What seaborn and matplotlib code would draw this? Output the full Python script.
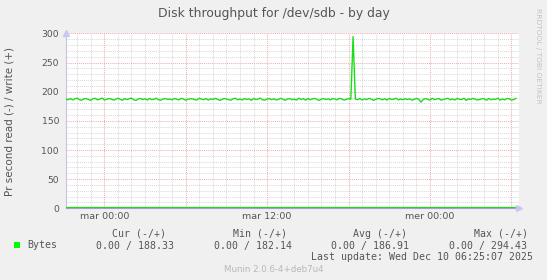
import numpy as np
import pandas as pd
import matplotlib
matplotlib.use("Agg")
import matplotlib.pyplot as plt
from matplotlib.patches import Rectangle
import seaborn as sns

# ---- data ----
title = "Disk throughput for /dev/sdb - by day"
ylabel = "Pr second read (-) / write (+)"
start_hour = -17 / 6          # hours relative to "mar 00:00"
step_hour = 1 / 6             # 10-minute samples
write_bytes = [
    187.2, 186.1, 188.4, 185.9, 187.6, 188.9, 186.3, 185.4, 187.8, 188.1,
    186.7, 185.2, 187.9, 188.6, 186.0, 187.3, 189.1, 185.8, 186.9, 188.2,
    187.4, 185.6, 186.8, 188.7, 187.1, 185.3, 188.0, 186.5, 187.7, 189.0,
    186.2, 185.0, 187.5, 188.3, 186.6, 187.9, 185.7, 188.5, 186.4, 187.0,
    188.8, 186.1, 185.5, 187.6, 188.1, 186.8, 187.3, 185.9, 188.4, 187.2,
    186.0, 188.6, 187.4, 185.4, 186.9, 188.0, 187.7, 186.3, 185.8, 188.9,
    187.1, 186.4, 188.2, 185.6, 187.8, 186.7, 188.5, 187.0, 185.2, 186.6,
    188.3, 187.5, 186.2, 185.7, 187.9, 188.7, 186.1, 187.3, 185.9, 188.0,
    186.8, 187.6, 185.3, 188.4, 186.5, 187.2, 188.9, 186.0, 185.6, 187.4,
    188.1, 186.3, 187.8, 185.8, 186.9, 188.6, 187.0, 185.4, 187.5, 188.2,
    186.4, 187.1, 185.7, 188.8, 186.7, 187.9, 185.5, 188.3, 186.2, 187.6,
    188.5, 186.9, 185.1, 187.3, 188.0, 186.6, 187.7, 185.9, 188.4, 187.2,
    186.1, 188.7, 187.4, 185.6, 186.8, 188.2, 187.0, 294.43, 187.5, 186.3,
    188.1, 185.8, 187.6, 186.4, 188.6, 187.2, 185.3, 186.9, 188.3, 187.7,
    186.0, 187.9, 185.6, 188.5, 186.7, 187.1, 188.9, 185.9, 187.4, 186.2,
    188.0, 186.5, 187.8, 185.4, 186.9, 188.4, 187.3, 182.14, 186.6, 188.2,
    187.0, 185.7, 188.7, 186.3, 187.5, 188.1, 185.5, 186.8, 187.9, 188.6,
    186.1, 187.4, 185.9, 188.3, 187.2, 186.4, 188.8, 185.2, 187.6, 186.9,
    188.5, 187.1, 185.8, 186.6, 188.0, 187.7, 185.4, 188.4, 186.2, 187.3,
    186.8, 188.9, 185.6, 187.5, 186.0, 188.2, 187.9, 185.7, 186.5, 188.33,
]
read_bytes = [0.0] * len(write_bytes)
xtick_hours = [0, 12, 24]
xtick_labels = ["mar 00:00", "mar 12:00", "mer 00:00"]
yticks = [0, 50, 100, 150, 200, 250, 300]
legend_name = "Bytes"
stat_headers = ["Cur (-/+)", "Min (-/+)", "Avg (-/+)", "Max (-/+)"]
stat_values = ["0.00 / 188.33", "0.00 / 182.14", "0.00 / 186.91", "0.00 / 294.43"]
last_update = "Last update: Wed Dec 10 06:25:07 2025"
footer = "Munin 2.0.6-4+deb7u4"
side_text = "RRDTOOL / TOBI OETIKER"

hours = [start_hour + i * step_hour for i in range(len(write_bytes))]
df = pd.DataFrame({"hour": hours, "write": write_bytes, "read": read_bytes})

# ---- figure ----
W, H = 547, 280
fig = plt.figure(figsize=(W / 100, H / 100), dpi=100, facecolor="#F0F0F0")

def fx(px):
    return px / W

def fy(py):
    return 1 - py / H

left, right, top, bottom = 66, 518.6, 33.4, 208.3
ax = fig.add_axes([fx(left), fy(bottom), fx(right - left), (bottom - top) / H])
ax.set_facecolor("white")
ax.set_xlim(-2.822, 30.53)
ax.set_ylim(0, 300)

gray = "#D8D8D8"
red = "#F0B0B0"
dot = (0, (1, 1))
for h in range(-2, 31):
    if h % 6 == 0:
        continue
    ax.axvline(h, color=gray, lw=0.7, ls=dot, zorder=0)
for h in range(0, 31, 6):
    ax.axvline(h, color=red, lw=0.75, ls=dot, zorder=0.5)
for v in range(10, 300, 10):
    if v % 50 == 0:
        continue
    ax.axhline(v, color=gray, lw=0.7, ls=dot, zorder=0)
for v in range(50, 301, 50):
    ax.axhline(v, color=red, lw=0.75, ls=dot, zorder=0.5)

sns.lineplot(data=df, x="hour", y="write", ax=ax, color="#1ADD1A", lw=1.0, zorder=3)
sns.lineplot(data=df, x="hour", y="read", ax=ax, color="#1ADD1A", lw=1.6, zorder=4)

for s in ["top", "right"]:
    ax.spines[s].set_visible(False)
ax.spines["left"].set_color("#C4C4E4")
ax.spines["bottom"].set_color("#A0A0C8")
ax.spines["left"].set_linewidth(0.8)
ax.spines["bottom"].set_linewidth(0.8)
ax.set_xlabel("")
ax.set_ylabel("")

ax.set_xticks(xtick_hours)
ax.set_xticklabels(xtick_labels)
ax.set_yticks(yticks)
ax.tick_params(axis="both", length=0, colors="#555555", labelsize=6.8, pad=3)
ax.tick_params(axis="y", labelsize=6.7, pad=5)

# axis arrows
ax.plot([0], [1.0], transform=ax.transAxes, marker="^", ms=4, color="#C8C8F4",
        clip_on=False, zorder=5)
ax.plot([1.0], [0], transform=ax.transAxes, marker=">", ms=4, color="#C8C8F4",
        clip_on=False, zorder=5)

# texts
fig.text(fx(274), fy(14), title, ha="center", va="center", fontsize=8.9, color="#555555")
fig.text(fx(10), fy(121), ylabel, ha="center", va="center", rotation=90,
         fontsize=7.5, color="#555555")
fig.text(fx(538), fy(56), side_text, ha="center", va="center", rotation=270,
         fontsize=5.4, color="#C4C4C4")

mono = "DejaVu Sans Mono"
hx = [111.6, 232.6, 353.0, 473.7]
vx = [96.0, 213.5, 330.7, 449.0]
for x, t in zip(hx, stat_headers):
    fig.text(fx(x), fy(234), t, ha="left", va="center", family=mono, fontsize=7.1, color="#555555")
for x, t in zip(vx, stat_values):
    fig.text(fx(x), fy(245.5), t, ha="left", va="center", family=mono, fontsize=7.1, color="#555555")
fig.patches.append(Rectangle((fx(14), fy(248)), 6 / W, 6 / H, transform=fig.transFigure,
                             facecolor="#00FF00", edgecolor="none", figure=fig))
fig.text(fx(26.9), fy(245.5), legend_name, ha="left", va="center", family=mono,
         fontsize=7.1, color="#555555")
fig.text(fx(533), fy(257.5), last_update, ha="right", va="center", family=mono,
         fontsize=7.1, color="#555555")
fig.text(fx(274), fy(269.5), footer, ha="center", va="center", fontsize=6.2, color="#B8B8B8")

fig.savefig("out.png", dpi=100, facecolor=fig.get_facecolor())
